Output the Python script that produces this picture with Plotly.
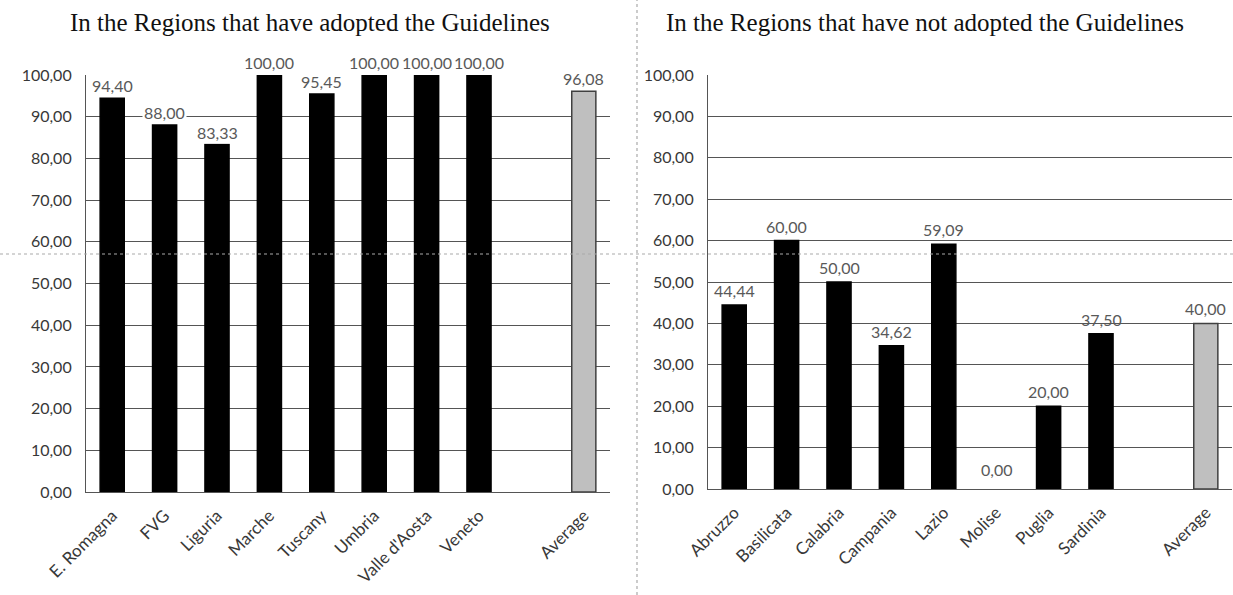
import plotly.graph_objects as go

W, H = 1233, 595

# ---- data ----
left_title = "In the Regions that have adopted the Guidelines"
right_title = "In the Regions that have not adopted the Guidelines"

left_categories = ["E. Romagna", "FVG", "Liguria", "Marche", "Tuscany", "Umbria",
                   "Valle d'Aosta", "Veneto", " ", "Average"]
left_values = [94.40, 88.00, 83.33, 100.00, 95.45, 100.00, 100.00, 100.00, None, 96.08]
left_labels = ["94,40", "88,00", "83,33", "100,00", "95,45", "100,00", "100,00", "100,00", None, "96,08"]

right_categories = ["Abruzzo", "Basilicata", "Calabria", "Campania", "Lazio", "Molise",
                    "Puglia", "Sardinia", " ", "Average"]
right_values = [44.44, 60.00, 50.00, 34.62, 59.09, 0.00, 20.00, 37.50, None, 40.00]
right_labels = ["44,44", "60,00", "50,00", "34,62", "59,09", "0,00", "20,00", "37,50", None, "40,00"]

y_tickvals = [0, 10, 20, 30, 40, 50, 60, 70, 80, 90, 100]
y_ticktext = ["0,00", "10,00", "20,00", "30,00", "40,00", "50,00", "60,00", "70,00",
              "80,00", "90,00", "100,00"]

# ---- styling ----
Y_TICK_FONT = dict(family="Lato, Open Sans, sans-serif", size=16, color="#383838")
X_TICK_FONT = dict(family="Lato, Open Sans, sans-serif", size=17, color="#383838")
LABEL_FONT = dict(family="Lato, Open Sans, sans-serif", size=16, color="#595959")
TITLE_FONT = dict(family="Liberation Serif, Times New Roman, serif", size=25, color="#111111")
GRID = "#555555"


def colors(cats):
    return ["#bfbfbf" if c == "Average" else "#000000" for c in cats]


def line_colors(cats):
    return ["#404040" if c == "Average" else "#000000" for c in cats]


def line_widths(vals):
    return [0 if (v is None or v == 0) else 1.5 for v in vals]


fig = go.Figure()
fig.add_trace(go.Bar(x=left_categories, y=left_values, xaxis="x", yaxis="y",
                     marker=dict(color=colors(left_categories),
                                 line=dict(color=line_colors(left_categories),
                                           width=line_widths(left_values))),
                     width=0.46, showlegend=False, hoverinfo="skip"))
fig.add_trace(go.Bar(x=right_categories, y=right_values, xaxis="x2", yaxis="y2",
                     marker=dict(color=colors(right_categories),
                                 line=dict(color=line_colors(right_categories),
                                           width=line_widths(right_values))),
                     width=0.46, showlegend=False, hoverinfo="skip"))

# pixel-based domains
def px_x(a, b):
    return [a / W, b / W]


def px_y(top, bottom):
    return [(H - bottom) / H, (H - top) / H]


axis_common = dict(showline=True, linecolor=GRID, linewidth=1.2, ticks="",
                   fixedrange=True, automargin=False)

fig.update_layout(
    width=W, height=H,
    margin=dict(l=0, r=0, t=0, b=0),
    paper_bgcolor="white", plot_bgcolor="white",
    bargap=0.5,
    xaxis=dict(domain=px_x(86, 610), anchor="y", type="category",
               categoryorder="array", categoryarray=left_categories,
               tickangle=-45, showgrid=False, tickfont=X_TICK_FONT,
               ticklabelstandoff=6, **axis_common),
    yaxis=dict(domain=px_y(75, 492), anchor="x", range=[0, 100],
               tickvals=y_tickvals, ticktext=y_ticktext, tickfont=Y_TICK_FONT,
               showgrid=True, gridcolor=GRID, gridwidth=1, zeroline=False,
               ticklabelstandoff=10, **axis_common),
    xaxis2=dict(domain=px_x(708, 1232), anchor="y2", type="category",
                categoryorder="array", categoryarray=right_categories,
                tickangle=-45, showgrid=False, tickfont=X_TICK_FONT,
                ticklabelstandoff=6, **axis_common),
    yaxis2=dict(domain=px_y(75, 489), anchor="x2", range=[0, 100],
                tickvals=y_tickvals, ticktext=y_ticktext, tickfont=Y_TICK_FONT,
                showgrid=True, gridcolor=GRID, gridwidth=1, zeroline=False,
                ticklabelstandoff=10, **axis_common),
)

annotations = []
for c, v, t in zip(left_categories, left_values, left_labels):
    if v is None:
        continue
    annotations.append(dict(x=c, y=v, xref="x", yref="y", text=t, showarrow=False,
                            yanchor="bottom", yshift=1, font=LABEL_FONT,
                            bgcolor="white", borderpad=1))
for c, v, t in zip(right_categories, right_values, right_labels):
    if v is None:
        continue
    annotations.append(dict(x=c, y=v, xref="x2", yref="y2", text=t, showarrow=False,
                            yanchor="bottom", yshift=8 if v == 0 else 3, font=LABEL_FONT))

annotations.append(dict(x=310 / W, y=(H - 23) / H, xref="paper", yref="paper",
                        text=left_title, showarrow=False, font=TITLE_FONT,
                        xanchor="center", yanchor="middle"))
annotations.append(dict(x=925 / W, y=(H - 23) / H, xref="paper", yref="paper",
                        text=right_title, showarrow=False, font=TITLE_FONT,
                        xanchor="center", yanchor="middle"))
fig.update_layout(annotations=annotations)

# dotted guide lines
fig.update_layout(shapes=[
    dict(type="line", xref="paper", yref="paper", x0=0, x1=1,
         y0=(H - 254) / H, y1=(H - 254) / H,
         line=dict(color="#aaaaaa", width=1.2, dash="dot"), layer="above"),
    dict(type="line", xref="paper", yref="paper", x0=637 / W, x1=637 / W,
         y0=0, y1=1, line=dict(color="#aaaaaa", width=1.2, dash="dot"), layer="above"),
])

fig.write_html("out.html")
